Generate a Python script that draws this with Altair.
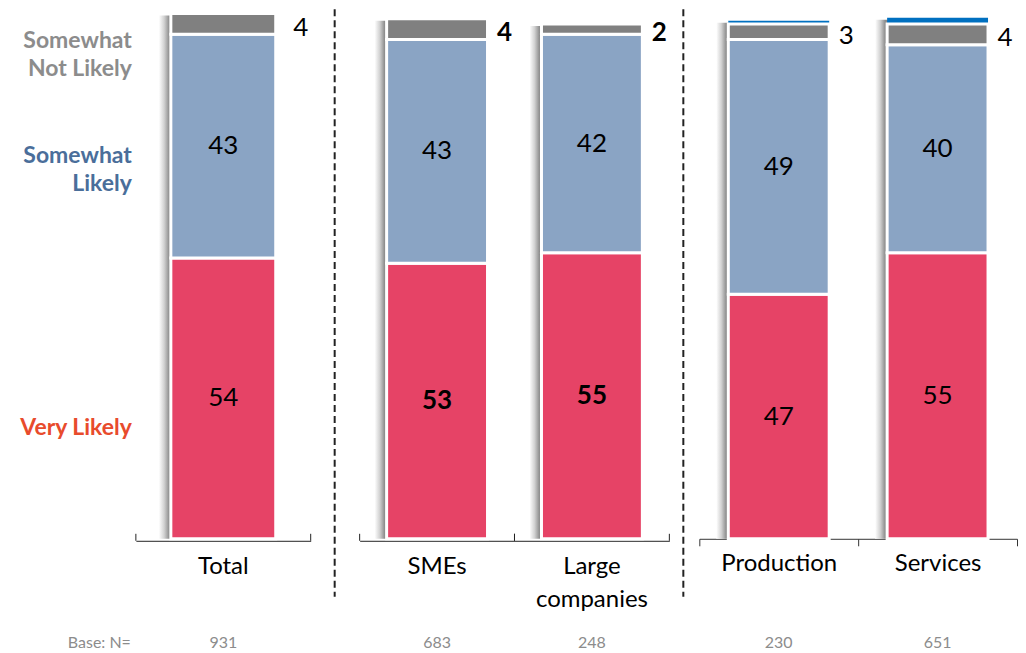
import altair as alt
import pandas as pd

# ---- data ----
categories = ["Total", "SMEs", "Large companies", "Production", "Services"]
very_likely = [54, 53, 55, 47, 55]
somewhat_likely = [43, 43, 42, 49, 40]
somewhat_not_likely = [4, 4, 2, 3, 4]
unlabelled_top = [0, 0, 0, 0.6, 1.2]
bold_very_likely = [False, True, True, False, False]
bold_somewhat_likely = [False, False, False, False, False]
bold_somewhat_not = [False, True, True, False, False]
base_n = [931, 683, 248, 230, 651]

series_names = ["Very Likely", "Somewhat Likely", "Somewhat Not Likely", "Top"]
legend_texts = ["Very Likely", "Somewhat\nLikely", "Somewhat\nNot Likely"]
bar_colors = ["#E64366", "#8AA4C4", "#808080", "#0070C0"]
legend_colors = ["#E84B2C", "#4A6E9A", "#8C8C8C"]
legend_dy = [30, 10, 17]

FONT = "Lato"
H = 531
YDOM = [0, 102]
BASE_Y = 635

rows = []
draw_seq = [0, 1, 3, 2]
for i, c in enumerate(categories):
    vals = [very_likely[i], somewhat_likely[i], somewhat_not_likely[i], unlabelled_top[i]]
    bolds = [bold_very_likely[i], bold_somewhat_likely[i], bold_somewhat_not[i], False]
    for s in draw_seq:
        rows.append({
            "cat": c, "series": series_names[s], "order": s, "value": vals[s],
            "bold": bolds[s],
            "legend": legend_texts[s] if s < 3 else "",
        })
df = pd.DataFrame(rows)
dcat = pd.DataFrame({"cat": categories, "n": base_n})
one = pd.DataFrame({"k": [0]})

shadow_fill = alt.LinearGradient(
    gradient="linear", x1=0, x2=1, y1=0, y2=0,
    stops=[alt.GradientStop(offset=0, color="#ffffff"),
           alt.GradientStop(offset=0.05, color="#d2d2d2"),
           alt.GradientStop(offset=0.1, color="#8c8c8c"),
           alt.GradientStop(offset=1, color="#8c8c8c")],
)


def panel(pcats, width, rng, barw, bracket, label_dx, first=False, sep_x=None):
    d = df[df.cat.isin(pcats)]
    dc = dcat[dcat.cat.isin(pcats)]
    if bracket:
        axis = alt.Axis(domain=True, domainColor="#222222", domainWidth=1, offset=2,
                        ticks=False, tickSize=0, labelPadding=14, labelFont=FONT,
                        labelFontSize=24, labelColor="black", labelAngle=0,
                        labelExpr="split(datum.label, ' ')", labelLineHeight=33, title=None,
                        grid=False)
    else:
        axis = alt.Axis(domain=True, domainColor="#333333", domainWidth=1, offset=0,
                        ticks=True, tickBand="extent", tickSize=7, tickColor="#333333",
                        labelPadding=6, labelFont=FONT, labelFontSize=24,
                        labelColor="black", labelAngle=0,
                        labelExpr="split(datum.label, ' ')", labelLineHeight=33, title=None,
                        grid=False)
    xscale = alt.Scale(paddingInner=0, paddingOuter=0, range=rng)
    X = alt.X("cat:N", sort=pcats, scale=xscale, axis=axis)
    yscale = alt.Scale(domain=YDOM)

    base = alt.Chart(d).transform_stack(
        stack="value", groupby=["cat"], as_=["v0", "v1"],
        sort=[alt.SortField("order", order="ascending")],
    ).transform_calculate(mid="(datum.v0 + datum.v1) / 2")

    shadow = alt.Chart(d).mark_bar(width=barw, xOffset=-12, yOffset=2,
                                   fill=shadow_fill).encode(
        x=X, y=alt.Y("sum(value):Q", scale=yscale, axis=None))

    bars = base.mark_bar(width=barw, stroke="white").encode(
        x=X,
        y=alt.Y("v0:Q", scale=yscale, axis=None),
        y2="v1:Q",
        color=alt.Color("series:N", scale=alt.Scale(domain=series_names, range=bar_colors), legend=None),
        strokeWidth=alt.condition("datum.series == 'Top'", alt.value(0), alt.value(3)),
    )

    def labels(cond, bold, **kw):
        mk = dict(font=FONT, fontSize=26, color="black", baseline="middle")
        if bold:
            mk["fontWeight"] = "bold"
        mk.update(kw)
        return base.transform_filter(cond).transform_filter(
            "datum.bold" if bold else "!datum.bold").mark_text(**mk).encode(
            x=X, y=alt.Y("mid:Q", scale=yscale, axis=None),
            text=alt.Text("value:Q", format="d"))

    inside = "datum.series == 'Very Likely' || datum.series == 'Somewhat Likely'"
    outside = "datum.series == 'Somewhat Not Likely'"
    layers = [shadow, bars,
              labels(inside, False), labels(inside, True),
              labels(outside, False, align="left", dx=label_dx, dy=4),
              labels(outside, True, align="left", dx=label_dx, dy=4)]

    layers.append(alt.Chart(dc).mark_text(font=FONT, fontSize=16, color="#8C8C8C",
                                          baseline="middle").encode(
        x=X, y=alt.value(BASE_Y), text="n:Q"))

    if bracket:
        for bp in (0, 1):
            layers.append(alt.Chart(dc).mark_rule(color="#222222", strokeWidth=1).encode(
                x=alt.X("cat:N", sort=pcats, scale=xscale, axis=axis, bandPosition=bp),
                y=alt.value(H + 2), y2=alt.value(H - 5)))

    if sep_x is not None:
        layers.append(alt.Chart(one).mark_rule(color="#222222", strokeWidth=2,
                                               strokeDash=[7, 4]).encode(
            x=alt.value(sep_x), y=alt.value(1), y2=alt.value(589)))

    if first:
        for k in range(3):
            layers.append(base.transform_filter(
                f"datum.cat == 'Total' && datum.series == '{series_names[k]}'").mark_text(
                font=FONT, fontSize=23, fontWeight="bold", align="right", baseline="middle",
                dy=legend_dy[k], lineBreak="\n", lineHeight=28, color=legend_colors[k]).encode(
                x=alt.value(-4), y=alt.Y("mid:Q", scale=yscale, axis=None),
                text="legend:N"))
        layers.append(alt.Chart(one).mark_text(font=FONT, fontSize=16, color="#8C8C8C",
                                               align="right", baseline="middle").encode(
            x=alt.value(-5), y=alt.value(BASE_Y), text=alt.value("Base: N=")))
        layers.append(alt.Chart(one).mark_rule(opacity=0, strokeOpacity=0).encode(
            x=alt.value(-128), y=alt.value(20), y2=alt.value(30)))

    return alt.layer(*layers).properties(width=width, height=H)


p1 = panel(["Total"], 224, [0, 175], 105, True, 70, first=True)
p2 = panel(["SMEs", "Large companies"], 340, [0, 310], 101, True, 60, sep_x=-25)
p3 = panel(["Production", "Services"], 318, [0, 318], 101, False, 60, sep_x=-16)

chart = alt.hconcat(p1, p2, p3, spacing=0, bounds="flush").properties(
    padding={"left": 0, "top": 0, "right": 0, "bottom": 0}
).configure_view(stroke=None)

chart.save("out.html", embed_options={"renderer": "svg", "actions": False})
